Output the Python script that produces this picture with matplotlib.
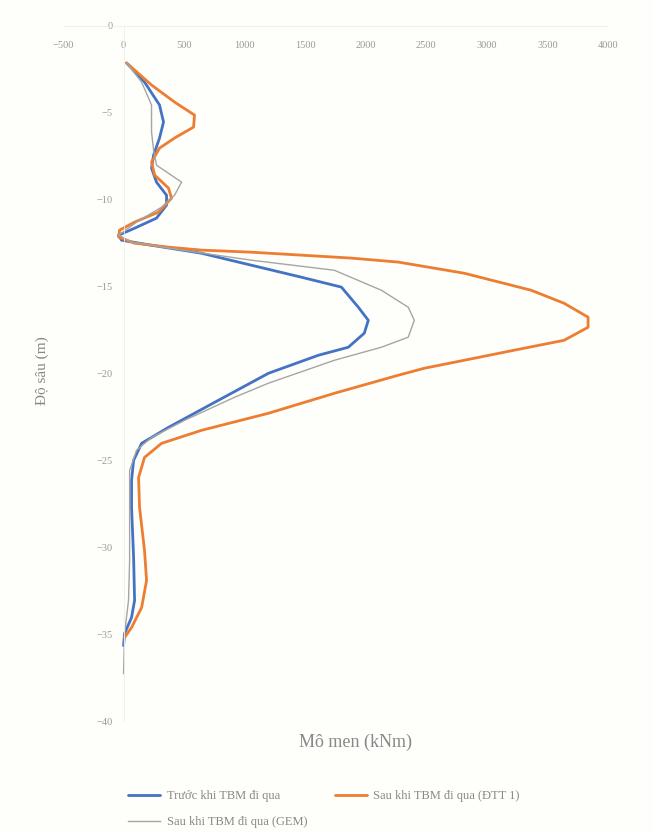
import matplotlib
matplotlib.use("Agg")
import matplotlib.pyplot as plt

# ---------------- data ----------------
depth_blue = [-2.13, -3.23, -4.55, -5.53, -6.45, -7.43, -8.18, -8.99, -9.74, -10.31, -11.06, -11.64,
              -12.04, -12.33, -12.62, -13.08, -13.77, -14.46, -15.03, -16.19, -16.94, -17.68, -18.49,
              -18.95, -19.99, -21.54, -23.10, -24.02, -25.00, -26.15, -27.71, -30.59, -33.06, -34.04,
              -34.97, -35.66]
moment_blue = [25, 173, 297, 330, 297, 248, 231, 272, 355, 355, 272, 91,
               -41, -17, 231, 644, 1056, 1469, 1799, 1939, 2021, 1988, 1856,
               1609, 1196, 784, 371, 149, 83, 66, 66, 83, 91, 66,
               8, 0]

depth_orange = [-2.13, -3.40, -4.38, -5.13, -5.82, -6.45, -7.03, -7.83, -8.58, -9.33, -9.91, -10.71,
                -11.29, -11.75, -12.15, -12.50, -12.73, -12.90, -13.02, -13.19, -13.36, -13.59, -14.23,
                -15.21, -15.96, -16.76, -17.34, -18.09, -18.66, -19.24, -19.70, -20.10, -21.14, -22.29,
                -23.27, -24.02, -24.83, -25.98, -27.71, -30.18, -31.91, -33.47, -34.62, -35.20]
moment_orange = [25, 231, 421, 586, 578, 421, 297, 231, 256, 371, 396, 289,
                 91, -33, -41, 91, 371, 644, 1056, 1469, 1881, 2269, 2813,
                 3366, 3638, 3836, 3836, 3638, 3226, 2813, 2483, 2269, 1741, 1196,
                 644, 314, 173, 124, 132, 173, 190, 149, 66, 8]

depth_grey = [-2.13, -3.23, -4.55, -6.11, -7.14, -8.01, -8.99, -9.74, -10.43, -11.29, -12.04,
              -12.44, -12.90, -13.48, -14.06, -15.21, -16.19, -16.94, -17.91, -18.49, -19.24,
              -20.56, -21.37, -22.70, -23.68, -24.42, -25.58, -27.88, -30.76, -33.06, -34.97, -37.27]
moment_grey = [25, 149, 231, 231, 248, 272, 479, 421, 314, 107, -41,
               66, 479, 1056, 1741, 2129, 2351, 2401, 2351, 2129, 1741,
               1196, 916, 503, 231, 107, 50, 50, 50, 41, 8, 0]

labels = ["Trước khi TBM đi qua", "Sau khi TBM đi qua (ĐTT 1)", "Sau khi TBM đi qua (GEM)"]
colors = ["#4472C4", "#ED7D31", "#A5A5A5"]

xticks = [-500, 0, 500, 1000, 1500, 2000, 2500, 3000, 3500, 4000]
yticks = [0, -5, -10, -15, -20, -25, -30, -35, -40]

# ---------------- figure ----------------
bg = "#fefefa"
fig = plt.figure(figsize=(6.53, 8.32), dpi=100, facecolor=bg)
ax = fig.add_axes([0.0965, 0.1334, 0.8345, 0.8354], facecolor=bg)

l_blue, = ax.plot(moment_blue, depth_blue, color=colors[0], lw=2.0, label=labels[0],
                  solid_joinstyle="round", solid_capstyle="round")
l_orange, = ax.plot(moment_orange, depth_orange, color=colors[1], lw=2.0, label=labels[1],
                    solid_joinstyle="round", solid_capstyle="round")
l_grey, = ax.plot(moment_grey, depth_grey, color=colors[2], lw=1.0, label=labels[2],
                  solid_joinstyle="round")

ax.set_xlim(-500, 4000)
ax.set_ylim(-40, 0)
ax.set_xticks(xticks)
ax.set_yticks(yticks)

for s in ["right", "bottom"]:
    ax.spines[s].set_visible(False)
ax.spines["left"].set_position(("data", 0))
ax.spines["top"].set_color("#eeeeee")
ax.spines["left"].set_color("#eeeeee")
ax.spines["top"].set_linewidth(0.6)
ax.spines["left"].set_linewidth(0.6)

ax.tick_params(axis="x", top=True, labeltop=True, bottom=False, labelbottom=False,
               length=0, pad=-17, labelcolor="#999999")
ax.tick_params(axis="y", length=0, pad=8, labelcolor="#999999")
for lab in ax.get_xticklabels() + ax.get_yticklabels():
    lab.set_fontfamily("Liberation Serif")
    lab.set_fontsize(7.5)

fig.text(0.0645, 0.555, "Độ sâu (m)", rotation=90, ha="center", va="center",
         family="Liberation Serif", size=11, color="#888888")
fig.text(0.545, 0.108, "Mô men (kNm)", ha="center", va="center",
         family="Liberation Serif", size=13, color="#888888")

leg = fig.legend(handles=[l_blue, l_grey, l_orange], labels=[labels[0], labels[2], labels[1]],
                 loc="upper left", bbox_to_anchor=(0.196, 0.050), ncol=2, frameon=False,
                 prop=dict(family="Liberation Serif", size=9), columnspacing=2.2,
                 handlelength=2.6, handletextpad=0.5, labelspacing=1.1, borderaxespad=0,
                 borderpad=0)
for t in leg.get_texts():
    t.set_color("#888888")

fig.savefig("out.png", dpi=100, facecolor=bg)
